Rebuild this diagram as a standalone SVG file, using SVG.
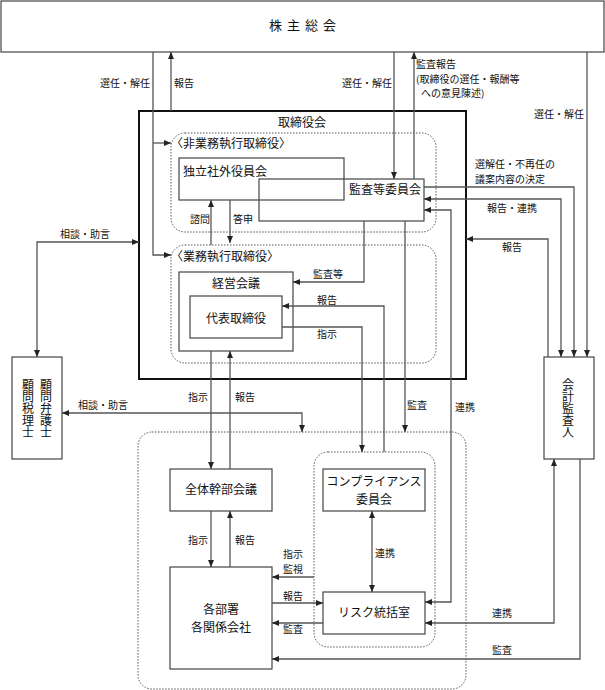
<svg xmlns="http://www.w3.org/2000/svg" width="605" height="690" viewBox="0 0 605 690">
<defs>
<marker id="ah" markerWidth="7" markerHeight="6" refX="7" refY="3" orient="auto-start-reverse" markerUnits="userSpaceOnUse"><path d="M0,0 L7,3 L0,6 z" fill="#222"/></marker>
<style>
text{font-family:"Noto Sans CJK JP","Noto Sans CJK SC",sans-serif;fill:#111}
.l{font-size:10px}
.b{font-size:12px}
.v{font-size:12px;writing-mode:vertical-rl;text-anchor:middle}
.box{fill:#fff;stroke:#444;stroke-width:1.2}
.dot{fill:none;stroke:#555;stroke-width:1;stroke-dasharray:1.5,1.5}
.c{fill:none;stroke:#555;stroke-width:1.3}
.e{marker-end:url(#ah)}
.s{marker-start:url(#ah)}
.m{text-anchor:middle}
.r{text-anchor:end}
</style>
</defs>

<g id="kabunushi"><rect class="box" x="1" y="1" width="603" height="51"/><text class="b m" x="305" y="30" letter-spacing="5" style="font-size:13px">株主総会</text></g>

<g id="torishimariyakukai"><rect x="139" y="111" width="327" height="268" fill="none" stroke="#111" stroke-width="2"/><text class="b m" x="302" y="127">取締役会</text></g>

<g id="hi-gyomu"><rect class="dot" x="171" y="133" width="265" height="99" rx="14"/><text class="b" x="171" y="148">〈非業務執行取締役〉</text></g>
<g id="dokuritsu"><rect class="box" x="179" y="158" width="165" height="42"/><text class="b" x="183" y="176">独立社外役員会</text></g>
<g id="kansa-iinkai"><rect class="box" x="259" y="179" width="165" height="42" fill-opacity="0"/><text class="b r" x="421" y="194">監査等委員会</text></g>

<g id="gyomu"><rect class="dot" x="171" y="245" width="265" height="118" rx="14"/><text class="b" x="171" y="261">〈業務執行取締役〉</text></g>
<g id="keiei"><rect class="box" x="179" y="272" width="114" height="79"/><text class="b m" x="236" y="288">経営会議</text></g>
<g id="daihyo"><rect class="box" x="190" y="296" width="92" height="42"/><text class="b m" x="236" y="323">代表取締役</text></g>

<g id="komon"><rect class="box" x="12" y="357" width="50" height="102"/>
<text class="v" x="46" y="408">顧問弁護士</text>
<text class="v" x="28" y="408">顧問税理士</text></g>

<g id="kaikei"><rect class="box" x="544" y="357" width="50" height="102"/>
<text class="v" x="568" y="408">会計監査人</text></g>

<g id="shikko-area"><rect class="dot" x="138" y="432" width="328" height="257" rx="14"/></g>
<g id="compliance-area"><rect class="dot" x="314" y="452" width="121" height="195" rx="14"/></g>
<g id="zentai"><rect class="box" x="170" y="469" width="102" height="42"/><text class="b m" x="221" y="494">全体幹部会議</text></g>
<g id="compliance"><rect class="box" x="323" y="469" width="102" height="42"/><text class="b m"><tspan x="374" y="486">コンプライアンス</tspan><tspan x="374" y="503.5">委員会</tspan></text></g>
<g id="kakubusho"><rect class="box" x="170" y="567" width="102" height="102"/><text class="b m"><tspan x="221" y="614">各部署</tspan><tspan x="221" y="631.5">各関係会社</tspan></text></g>
<g id="risk"><rect class="box" x="323" y="592" width="102" height="42"/><text class="b m" x="374" y="617">リスク統括室</text></g>

<g id="connectors">
<path class="c e" d="M153,52 V255 H171"/>
<path class="c e" d="M153,143 H171"/>
<path class="c e" d="M171,111 V52"/>
<path class="c e" d="M394,52 V179"/>
<path class="c e" d="M414,179 V52"/>
<path class="c e" d="M587,52 V357"/>
<path class="c e" d="M424,187 H574 V357"/>
<path class="c s e" d="M424,199 H561 V357"/>
<path class="c e" d="M548,357 V239 H466"/>
<path class="c s e" d="M424,210 H451 V602 H425"/>
<path class="c e" d="M364,221 V282 H293"/>
<path class="c e" d="M405,221 V432"/>
<path class="c e" d="M384,452 V306 H282"/>
<path class="c e" d="M282,327 H362 V452"/>
<path class="c e" d="M211,245 V200"/>
<path class="c e" d="M230,200 V243"/>
<path class="c s e" d="M139,242 H37 V357"/>
<path class="c s e" d="M62,413 H302 V432"/>
<path class="c e" d="M211,351 V469"/>
<path class="c e" d="M230,469 V351"/>
<path class="c e" d="M211,511 V567"/>
<path class="c e" d="M230,567 V511"/>
<path class="c s e" d="M372,511 V592"/>
<path class="c e" d="M314,577 H272"/>
<path class="c e" d="M272,603 H323"/>
<path class="c e" d="M323,623 H272"/>
<path class="c s e" d="M554,459 V623 H425"/>
<path class="c e" d="M580,459 V659 H272"/>
</g>

<g id="labels">
<text class="l r" x="150" y="87">選任・解任</text>
<text class="l" x="174" y="87">報告</text>
<text class="l r" x="392" y="87">選任・解任</text>
<text class="l"><tspan x="416" y="68">監査報告</tspan><tspan x="416" y="82.5">(取締役の選任・報酬等</tspan><tspan x="421" y="97">への意見陳述)</tspan></text>
<text class="l r" x="584" y="118">選任・解任</text>
<text class="l"><tspan x="475" y="168">選解任・不再任の</tspan><tspan x="475" y="182.5">議案内容の決定</tspan></text>
<text class="l" x="487" y="212">報告・連携</text>
<text class="l" x="502" y="251">報告</text>
<text class="l" x="190" y="223">諮問</text>
<text class="l" x="233" y="223">答申</text>
<text class="l" x="313" y="278">監査等</text>
<text class="l" x="317" y="304">報告</text>
<text class="l" x="317" y="338">指示</text>
<text class="l" x="60" y="238">相談・助言</text>
<text class="l" x="78" y="409">相談・助言</text>
<text class="l" x="188" y="401">指示</text>
<text class="l" x="235" y="401">報告</text>
<text class="l" x="407" y="409">監査</text>
<text class="l" x="455" y="411">連携</text>
<text class="l" x="188" y="544">指示</text>
<text class="l" x="235" y="544">報告</text>
<text class="l"><tspan x="283" y="558">指示</tspan><tspan x="283" y="572.5">監視</tspan></text>
<text class="l" x="283" y="600">報告</text>
<text class="l" x="283" y="633">監査</text>
<text class="l" x="375" y="557">連携</text>
<text class="l" x="492" y="617">連携</text>
<text class="l" x="492" y="654">監査</text>
</g>
</svg>
